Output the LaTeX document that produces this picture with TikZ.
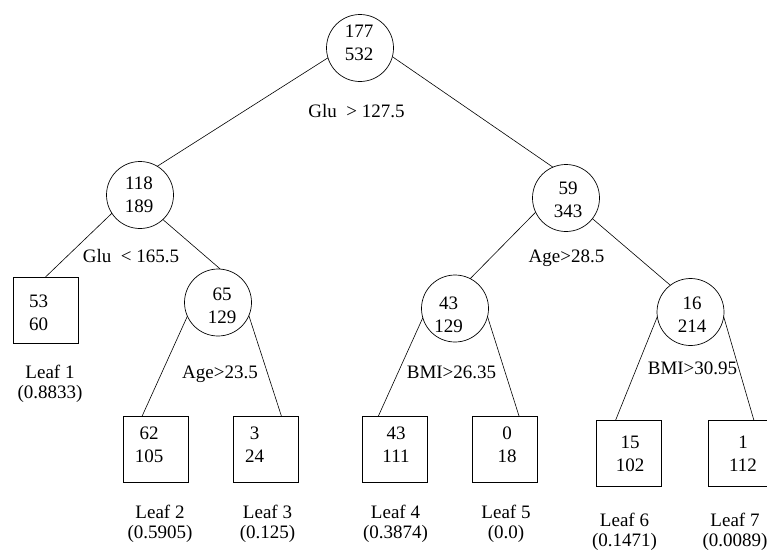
\documentclass[tikz,border=0pt]{standalone}
\usepackage{fontspec}
\setmainfont{Liberation Serif}
\begin{document}
\begin{tikzpicture}[x=1pt,y=-1pt,
  every node/.style={font=\fontsize{19}{23}\selectfont, inner sep=0pt, outer sep=0pt},
  split/.style={circle, draw, line width=0.7pt, minimum size=67pt},
  leafbox/.style={draw, line width=0.7pt, minimum width=65pt, minimum height=66pt},
  num/.style={align=center},
  leaflab/.style={align=center, font=\fontsize{19}{20}\selectfont},
  rule/.style={anchor=base},
  conn/.style={line width=0.6pt}]
\useasboundingbox (0,0) rectangle (767,550);
\clip (0,0) rectangle (767,550);
% split nodes
\node[split] (n0) at (360,48) {};
\node[num] (t0) at (359,43) {177\\532};
\node[split] (n1) at (140,195) {};
\node[num] (t1) at (139,195) {118\\189};
\node[split] (n2) at (566,198) {};
\node[num] (t2) at (568,200) {59\\343};
\node[split] (n3) at (218,302.5) {};
\node[num] (t3) at (222,305.5) {65\\129};
\node[split] (n4) at (455,308.5) {};
\node[num] (t4) at (448.5,314.5) {43\\129};
\node[split] (n5) at (690.5,312) {};
\node[num] (t5) at (692,314.5) {16\\214};
% leaves
\node[leafbox] (l1) at (45.5,310) {};
\node[num] (lt1) at (38.5,312.5) {53\\60};
\node[leaflab] (lb1) at (50,383.5) {Leaf 1\\(0.8833)};
\node[leafbox] (l2) at (155.5,449) {};
\node[num] (lt2) at (149,445) {62\\105};
\node[leaflab] (lb2) at (160,524) {Leaf 2\\(0.5905)};
\node[leafbox] (l3) at (266,449) {};
\node[num] (lt3) at (254.5,445) {3\\24};
\node[leaflab] (lb3) at (267.5,524) {Leaf 3\\(0.125)};
\node[leafbox] (l4) at (394.5,449) {};
\node[num] (lt4) at (396,445) {43\\111};
\node[leaflab] (lb4) at (395.5,524) {Leaf 4\\(0.3874)};
\node[leafbox] (l5) at (505,449) {};
\node[num] (lt5) at (507,445) {0\\18};
\node[leaflab] (lb5) at (506,524) {Leaf 5\\(0.0)};
\node[leafbox] (l6) at (629,453) {};
\node[num] (lt6) at (630,453.5) {15\\102};
\node[leaflab] (lb6) at (624.5,532) {Leaf 6\\(0.1471)};
\node[leafbox] (l7) at (740.5,453) {};
\node[num] (lt7) at (743,453.5) {1\\112};
\node[leaflab] (lb7) at (735,532) {Leaf 7\\(0.0089)};
% rules
\node[rule] (r0) at (356.5,117) {Glu\ \ > 127.5};
\node[rule] (r1) at (131,262) {Glu\ \ < 165.5};
\node[rule] (r3) at (220,378) {Age>23.5};
\node[rule] (r2) at (566.5,262) {Age>28.5};
\node[rule] (r4) at (451.5,378) {BMI>26.35};
\node[rule] (r5) at (692.5,374) {BMI>30.95};
% connectors
\draw[conn] (n0.197) -- (n1.59);
\draw[conn] (n0.345) -- (n2.113);
\draw[conn] (n1.213) -- (l1.north);
\draw[conn] (n1.313) -- (n3.86);
\draw[conn] (n3.204) -- (l2.112);
\draw[conn] (n3.337) -- (l3.65);
\draw[conn] (n2.205) -- (n4.63);
\draw[conn] (n2.322) -- (n5.127);
\draw[conn] (n4.196) -- (l4.116);
\draw[conn] (n4.346) -- (l5.67);
\draw[conn] (n5.188) -- (l6.112);
\draw[conn] (n5.352) -- (l7.68);
\end{tikzpicture}
\end{document}
